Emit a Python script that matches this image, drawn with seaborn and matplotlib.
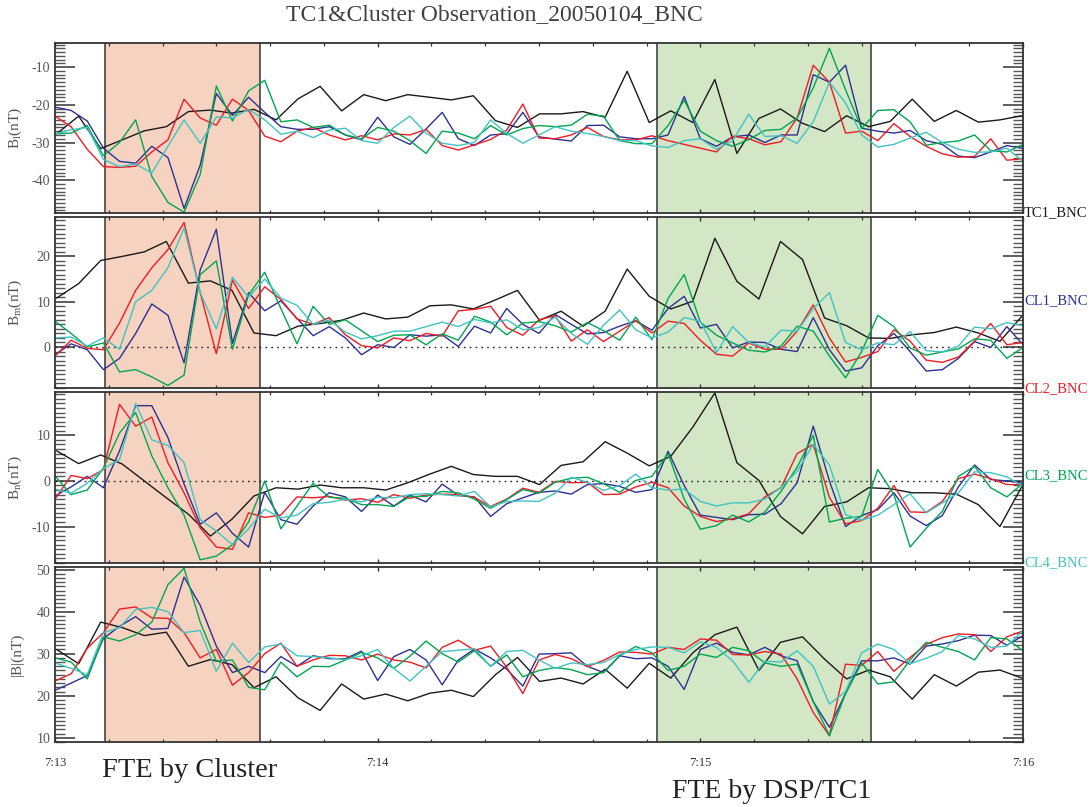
import numpy as np
import pandas as pd
import matplotlib
matplotlib.use("Agg")
import matplotlib.pyplot as plt
import seaborn as sns
from matplotlib.ticker import MultipleLocator, FixedLocator

# ---------------- data (seconds after 07:13:00) ----------------
T_CL = np.arange(0, 181, 3)          # Cluster sample times
T_TC1 = [0.3, 4.4, 8.5, 12.5, 16.6, 20.7, 24.8, 28.9, 32.9, 37.0,
         41.1, 45.2, 49.3, 53.3, 57.4, 61.5, 65.6, 69.7, 73.7, 77.8,
         81.9, 86.0, 90.1, 94.1, 98.2, 102.3, 106.4, 110.5, 114.5, 118.6,
         122.7, 126.8, 130.9, 134.9, 139.0, 143.1, 147.2, 151.3, 155.3, 159.4,
         163.5, 167.6, 171.7, 175.7, 179.8]

# ---- B_l ----
BL_TC1 = [-27.7, -23, -31.6, -29.3, -26.9, -25.8, -21.8, -21.4, -22.2, -21.2,
          -24, -18.4, -15.1, -21.6, -17.3, -18.9, -17.3, -18, -18.7, -17.6,
          -24.2, -26, -22.4, -22.4, -21.8, -23.3, -11.1, -24.7, -21.6, -24.7,
          -13.3, -32.9, -23.6, -21.1, -24.9, -27.1, -22.9, -25.8, -24.4, -18.5,
          -24.4, -21.5, -24.6, -24, -22.9]
BL_CL1 = [-20.6, -21.5, -24.3, -31.5, -35, -35.5, -31, -34, -47.5, -36, -17, -22.8, -18, -22, -25.8, -26.5, -26.5, -25.8, -28,
          -29.3, -23.3, -28.5, -30.5, -26.4, -22, -29, -30.8, -28, -27.7, -22, -28.5, -29.1, -29.6, -25.5, -25.4, -28.5, -29, -29, -28, -17.8,
          -29, -31, -28.5, -28, -30, -28, -28, -12, -14, -9.5, -26.2, -27, -27.5, -26.8, -29.5, -30.5, -33.6, -34, -32.5, -30.8, -31.6]
BL_CL2 = [-23, -25.8, -31.8, -36.4, -36.6, -36.3, -32.5, -29.3, -18.5, -23.5, -25.4, -18.5, -21.5, -28.3, -29.8, -27, -26, -28, -29.3,
          -28.2, -29.3, -27.7, -28, -26.5, -30.8, -32, -30.6, -29.2, -26.7, -19.8, -28.8, -29, -28, -26, -28.4, -29.3, -29.3, -28.2, -29.5, -30.5,
          -31.5, -32.5, -28.3, -29, -30.6, -29.8, -23.5, -9.5, -14, -27.5, -27, -29.5, -25, -28.4, -31, -33, -33.9, -33.7, -29, -34.7, -34.3]
BL_CL3 = [-27.7, -27.5, -25.5, -33.5, -30, -24, -39, -45.9, -48.5, -38.5, -15, -24.3, -16.3, -13.5, -24.5, -24, -26, -25.4, -28,
          -29, -26, -27, -29.5, -32.9, -27, -27.5, -29, -25.5, -28, -26.3, -25.5, -25.8, -25.4, -22.5, -23, -29.5, -30.3, -30.3, -25.5, -18.8,
          -27, -29.5, -31, -29.2, -26.8, -26.5, -23.5, -15.5, -5, -16, -26.3, -21.5, -21.3, -24.5, -30.7, -30, -29.6, -28, -32.2, -32.5, -30.5]
BL_CL4 = [-27.7, -26.6, -26, -34.5, -36.4, -35.7, -38.1, -31, -24, -30.2, -23.2, -23.5, -21.2, -24, -27.8, -27, -28.7, -26.7, -26.2,
          -29.5, -30.2, -26, -23, -27.5, -30.2, -30.8, -30, -24, -27.6, -30.2, -28, -25.8, -27, -27.6, -28.4, -29.5, -29.5, -30.9, -31.3, -29.5,
          -29, -31.8, -29.5, -22.5, -28.4, -28.2, -30.2, -24.5, -14, -19.5, -28, -31.2, -30.5, -28.8, -27.3, -30, -31.8, -32.6, -32.5, -31.5, -35]

# ---- B_m ----
BM_TC1 = [10.8, 14, 19.1, 20, 21, 23.3, 14.1, 14.6, 12.5, 3.1,
          2.5, 4.6, 5.2, 5.9, 7.5, 6.2, 6.6, 9.1, 9.3, 8.4,
          10.4, 12.5, 5.9, 7.9, 4.6, 7.9, 17.2, 11.2, 8.4, 10.1,
          24, 14.5, 10.6, 23.3, 19.3, 6.4, 4.7, 2, 1.9, 2.7,
          3.2, 4.4, 3.1, 1.25, 6.8]
BM_CL1 = [-1.7, 0.7, -0.6, -5, -2.5, 3, 9.5, 7, -3.5, 17, 26, 0.8, 12, 8, 10.2, 6.3, 2.5, 4.5, 2,
          -1.7, 0.5, -0.1, 2.7, 2.4, 2.7, 0.1, 4.6, 3.1, 8.5, 5, 3, 7.2, 5, 2.9, 3.2, 4.6, 5.8, 3.7, 8.5, 11.2,
          4.2, 5, -0.2, 1.1, 1, -0.5, -1, 6.5, -0.6, -5.3, -4.6, 0.3, 3, -1, -5.3, -5, -2.5, 1.2, -0.1, 4.5, 0.5]
BM_CL2 = [-2, 1.5, -0.3, -0.6, 5.3, 12.5, 17.5, 21.5, 27.5, 12, -1.5, 14.8, 8.5, 13.3, 10.5, 6.2, 5, 6.5, 2.7,
          0.3, -0.2, 2, 1.4, 3, 2.4, 8, 8.3, 9, 4.3, 2.6, 6, 6.9, 1.3, 3.8, 1.2, 3.5, 5.8, 3.1, 5.7, 5.2,
          1.5, -1.6, -2, 0.9, -0.5, -0.5, 3.5, 9.3, 2, -3.3, -2.3, -1, 3.8, 1.3, -2.9, -3.4, -2.2, 1.3, 5.2, 0.5, 1]
BM_CL3 = [5.7, 3, 0, 0.9, -5.5, -5, -6.6, -8.5, -6.2, 16, 19, -0.5, 11.5, 16.5, 8.5, 0.7, 9, 5, 6,
          3.6, 1.2, 2.6, 2.7, 0.5, 2.9, 1.5, 6.8, 5.5, 2.7, 5.3, 5.6, 4.7, 3.3, 5.4, 3.6, 1.5, 6.6, 1.6, 10.7, 16,
          5.5, 2.6, 0.9, -0.7, -1.1, 0.2, 4.6, 3.5, -2, -6.8, -1, 7, 4.5, -0.2, -1.8, -1.1, -0.4, 1.8, 1.5, -2.5, -0.1]
BM_CL4 = [2, 2.2, 0.2, 2, -0.5, 10, 12.5, 17.5, 26.3, 12, 4, 15.4, 11, 15, 10.8, 9.2, 5, 6, 3.3,
          1.8, 2.5, 3.5, 3.5, 4.5, 5.5, 4.5, 6.1, 5.3, 6, 3.8, 4.3, 6.6, 3, 0.6, 4.8, 8.2, 3.8, 2, 3.3, 6.5,
          5.7, -1.2, 4.5, 1, 0, 3.7, 3.5, 8.5, 12, 1, -0.6, 0.9, 0.5, 3.4, -0.8, -1.1, 0.2, 4.4, 4, 5.4, 4.7]

# ---- B_n ----
BN_TC1 = [6.6, 3.8, 5.7, 3.7, 0, -3.7, -7.3, -12.1, -8.4, -3.3,
          -1.5, -1.8, -0.9, -1.5, -1.5, -2, -0.4, 1.5, 3.2, 1.4,
          1, 1, -0.8, 3.4, 4.2, 8.6, 6.1, 3.3, 5.4, 11.8,
          19.3, 4, 0.1, -7.8, -11.6, -5.6, -4.6, -1.5, -1.7, -2.6,
          -2.6, -2.9, -5.2, -10, -1.2]
BN_CL1 = [-3.3, -1.3, 1, -1.5, 6.6, 16.5, 16.5, 9.5, -0.7, -9.5, -7, -11.5, -14.5, -2.5, -8.5, -9.5, -5.5, -2.6, -3.5,
          -6.7, -3.1, -5.5, -3.1, -4.6, -0.7, -3.2, -3.5, -7.8, -5, -3.7, -2.5, -2.2, -2.9, -0.8, -0.6, -1.2, -2.5, -1.9, 6.5, -1,
          -7.5, -8, -8.5, -7.4, -7.3, -5, -0.4, 12, 0, -10, -7.6, -6.3, -2.6, -7.7, -9.8, -7.6, -1.3, 3.5, 0.3, 0, -0.5]
BN_CL2 = [-4, 1.2, 0.5, 2.5, 16.8, 12, 14, 4, -2.6, -10.3, -14.5, -15, -7, -8, -7.5, -3.5, -3.7, -3.4, -4.2,
          -3.9, -4.7, -3, -3.8, -3.1, -2.9, -3, -3.6, -5.6, -4, -1.6, -2.5, -0.1, -0.4, -0.3, -3, -2.9, -1.3, -0.3, -1.5, -5.5,
          -7.8, -8.9, -8.3, -7.2, -3.5, -1.5, 6, 8, -3.6, -9.4, -8.7, -6, -1, -6.8, -6.9, -4.5, 0.5, 1.5, 0.5, -0.8, -0.8]
BN_CL3 = [1.1, -3, -2, 2.8, 10.5, 15, 5.5, -1.5, -7.5, -17.3, -16.5, -14, -9, 0, -10.5, -5.5, -0.5, -3.6, -3.8,
          -5.2, -5.2, -5.6, -3.4, -3.4, -2.3, -2.6, -4, -6, -4.1, -1.9, -2.7, -0.3, 0.6, 0.8, -0.6, -2.5, 0.1, 1, 6, -4,
          -10.6, -9.8, -7.5, -9, -6.8, -2.3, 3, 10, -9, -8.2, -7.8, 2.5, -3, -14.5, -10.4, -6.7, 1, 3.2, -1.5, -3.5, -0.5]
BN_CL4 = [-1.8, -2.7, -0.5, 2.7, 4.7, 17, 9, 7.8, 4, -8.5, -11, -14, -10.5, -6.2, -8.1, -7.5, -5, -4.7, -4,
          -4.6, -3.6, -3.7, -3, -2.8, -3, -3.3, -2.3, -5.7, -4.5, -4.4, -4.5, -2.7, 0.8, -0.3, -2.1, -1, 1.5, -1.5, -2, -1.8,
          -4.5, -5.5, -4.8, -4.8, -4, -1.4, 2.1, 8, 3.5, -7.4, -8.6, -7.5, -5.2, -2.8, -7, -4.8, -2.6, 2, 1.8, 0.9, -1.2]

# ---- |B| ----
BB_TC1 = [31, 27.6, 37.5, 36.2, 34.3, 35.1, 27, 28.6, 27.4, 21.9,
          24.5, 19.5, 16.5, 22.8, 19.2, 20.4, 18.8, 20.6, 21.3, 19.8,
          25, 29.1, 23.4, 24.2, 22.8, 26.3, 21.8, 27.7, 24.2, 30.2,
          34.5, 36.3, 26, 32.7, 34, 28.7, 24, 26.1, 24.5, 19.2,
          25, 22.3, 25.6, 26.1, 24.2]
BB_CL1 = [21.3, 23, 24.8, 33.6, 36.5, 38.8, 35.8, 36, 48.2, 41.5, 31.8, 25.5, 27, 25.5, 29.3, 27, 29.5, 28.8, 28.8,
          30.6, 23.6, 29.3, 31, 28.5, 22.6, 28.5, 31.1, 29, 26.3, 22.3, 29.9, 30, 30.2, 27, 25.5, 29.5, 28.8, 29, 27, 21.5,
          31, 32.5, 30.3, 29.7, 31.5, 29.5, 28.3, 18.6, 12.5, 20.5, 28.3, 28.3, 29, 27.5, 31.8, 32.3, 33.1, 34.4, 34.3, 32, 34.3]
BB_CL2 = [23.5, 25.2, 31.3, 35, 40.6, 41.1, 38.5, 38.4, 35, 29, 31, 22.5, 25.5, 30, 32.5, 27, 28.5, 29.6, 29.5,
          28.5, 29.9, 28.5, 28, 26.6, 31.5, 33.2, 30.8, 31.8, 26.8, 20.5, 28.5, 29.8, 28.8, 26.9, 28.4, 30.4, 30.3, 29.9, 31.5, 31,
          33.5, 33.2, 29.8, 29.7, 30.5, 29.9, 24, 16, 10.5, 27.5, 27.2, 30.5, 25.8, 29.1, 32.2, 33.8, 34.7, 34.5, 30.5, 34, 35.4]
BB_CL3 = [29, 28, 24, 34, 33, 34.5, 37.5, 46.4, 50.3, 37.5, 28.2, 28.5, 22, 21.4, 28, 24.5, 27, 26.9, 28.5,
          30.3, 29, 26.5, 29.4, 33, 30, 28, 30.7, 27, 29.7, 24.5, 26, 26.7, 26.2, 25, 25.5, 29.5, 31.7, 30.2, 26, 27,
          29.9, 29.1, 31.5, 30.7, 27.8, 27, 27.5, 18.6, 10.5, 20.5, 27.8, 22.8, 23.3, 28.5, 32.7, 31.5, 30.5, 28.5, 33.8, 33.5, 30.7]
BB_CL4 = [27.8, 26.5, 25, 35, 36.2, 40.5, 41, 40, 35, 35.5, 25.8, 32.5, 27.9, 31.6, 32.3, 29.5, 29.3, 29, 28.6,
          29.5, 31, 26.5, 23.5, 27, 30.5, 30.8, 31.2, 27, 30.5, 30.8, 28.5, 26.5, 27.8, 27.4, 27.9, 29.8, 31, 31.6, 31.5, 30.2,
          32.8, 31.5, 28.3, 23.2, 28.2, 28, 30.7, 27, 18, 21, 30.2, 32.3, 31, 27.6, 28.9, 30.5, 34.3, 33.5, 31.5, 31.8, 35.5]

SC_NAMES = ["TC1_BNC", "CL1_BNC", "CL2_BNC", "CL3_BNC", "CL4_BNC"]
SC_COLORS = ["#1a1a1a", "#2e3192", "#ee1c25", "#00a651", "#40c4c2"]
X_TICKS = [0, 60, 120, 180]
X_LABELS = ["7:13", "7:14", "7:15", "7:16"]
FTE_CLUSTER = (9.3, 38.1)
FTE_TC1 = (111.9, 151.7)

# ---------------- styling ----------------
sns.set_style("ticks")
plt.rcParams["font.family"] = ["Liberation Serif", "DejaVu Serif"]
plt.rcParams["mathtext.fontset"] = "custom"
plt.rcParams["mathtext.rm"] = "Liberation Serif"
plt.rcParams["mathtext.it"] = "Liberation Serif:italic"
plt.rcParams["axes.unicode_minus"] = False

W, H = 1091, 807
fig = plt.figure(figsize=(W / 100, H / 100), dpi=100)

panels = [
    ("B$_\\mathregular{l}$(nT)", [BL_TC1, BL_CL1, BL_CL2, BL_CL3, BL_CL4], (-48.7, -3.6), [-40, -30, -20, -10], False, (43, 213)),
    ("B$_\\mathregular{m}$(nT)", [BM_TC1, BM_CL1, BM_CL2, BM_CL3, BM_CL4], (-9.05, 28.7), [0, 10, 20], True, (217, 388)),
    ("B$_\\mathregular{n}$(nT)", [BN_TC1, BN_CL1, BN_CL2, BN_CL3, BN_CL4], (-18.0, 19.5), [-10, 0, 10], True, (392, 563)),
    ("|B|(nT)", [BB_TC1, BB_CL1, BB_CL2, BB_CL3, BB_CL4], (9.0, 50.6), [10, 20, 30, 40, 50], False, (567, 742)),
]

x0, x1 = 55, 1023
gray = "#555555"
axes = []
for i, (ylab, series, ylim, yt, zero_line, (ytop, ybot)) in enumerate(panels):
    ax = fig.add_axes([x0 / W, 1 - ybot / H, (x1 - x0) / W, (ybot - ytop) / H])
    axes.append(ax)
    frames = [pd.DataFrame({"t": T_TC1, "v": series[0], "sc": SC_NAMES[0]})]
    for name, arr in zip(SC_NAMES[1:], series[1:]):
        frames.append(pd.DataFrame({"t": T_CL, "v": arr, "sc": name}))
    df = pd.concat(frames, ignore_index=True)

    for (a, b), fc in [(FTE_CLUSTER, "#f6d3c0"), (FTE_TC1, "#d3e6c6")]:
        ax.axvspan(a, b, facecolor=fc, edgecolor="none", zorder=0)
        ax.axvline(a, color="#444444", lw=1.2, zorder=1)
        ax.axvline(b, color="#444444", lw=1.2, zorder=1)
    if zero_line:
        ax.axhline(0, color="#222222", lw=1.0, ls=(0, (1.2, 3)), zorder=1)

    sns.lineplot(data=df, x="t", y="v", hue="sc", hue_order=SC_NAMES,
                 palette=SC_COLORS, estimator=None, sort=False, legend=False,
                 lw=1.0, ax=ax, zorder=3)

    ax.set_xlim(0, 180)
    ax.set_ylim(*ylim)
    ax.set_xlabel("")
    ax.set_ylabel(ylab, fontsize=11, color=gray)
    ax.yaxis.set_label_coords(-0.032, 0.5)
    ax.xaxis.set_major_locator(FixedLocator(X_TICKS))
    ax.xaxis.set_minor_locator(MultipleLocator(10))
    ax.yaxis.set_major_locator(FixedLocator(yt))
    ax.yaxis.set_minor_locator(MultipleLocator(1))
    ax.tick_params(axis="x", which="major", direction="in", length=3.2, width=1,
                   top=True, bottom=True, color="#333333")
    ax.tick_params(axis="x", which="minor", direction="in", length=2.2, width=0.9,
                   top=True, bottom=True, color="#333333")
    ax.tick_params(axis="y", which="major", direction="in", length=14.4, width=1.1,
                   left=True, right=True, labelsize=10, labelcolor=gray, pad=3.5,
                   color="#333333")
    ax.tick_params(axis="y", which="minor", direction="in", length=7.2, width=1.0,
                   left=True, right=True, color="#555555")
    if i == len(panels) - 1:
        ax.set_xticks(X_TICKS, X_LABELS)
        ax.tick_params(axis="x", labelsize=9, labelcolor="#333333", pad=10.5)
    else:
        ax.tick_params(axis="x", labelbottom=False)
    for sp in ax.spines.values():
        sp.set_color("#333333")
        sp.set_linewidth(1.3)
        sp.set_zorder(5)

# title
fig.text(494 / W, 1 - 15 / H, "TC1&Cluster Observation_20050104_BNC",
         ha="center", va="center", fontsize=17, color="#404040")

# spacecraft labels on the right
for name, col, y in zip(SC_NAMES, SC_COLORS, [213, 301, 389, 476, 563]):
    fig.text(1024 / W, 1 - y / H, name, color=col, fontsize=10.5,
             ha="left", va="center")

# event annotations
fig.text(102 / W, 1 - 777 / H, "FTE by Cluster", fontsize=20.5, color="#222222",
         ha="left", va="baseline")
fig.text(672 / W, 1 - 798 / H, "FTE by DSP/TC1", fontsize=20, color="#222222",
         ha="left", va="baseline")

fig.savefig("out.png", dpi=100)
